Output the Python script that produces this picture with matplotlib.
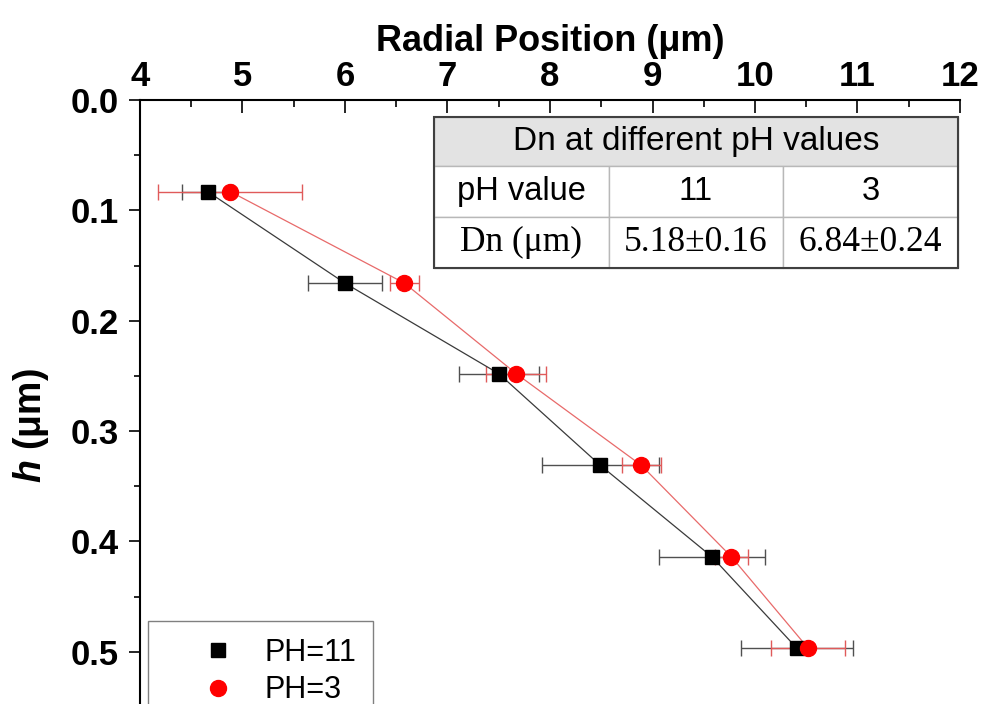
import matplotlib.pyplot as plt
from matplotlib.ticker import MultipleLocator, FormatStrFormatter
from matplotlib.patches import Rectangle

plt.rcParams['font.family'] = ['Liberation Sans', 'DejaVu Sans']
plt.rcParams['mathtext.fontset'] = 'custom'
plt.rcParams['mathtext.it'] = 'Liberation Sans:italic:bold'

W, H = 987, 704

# depth h (um) of each layer
h = [0.083, 0.166, 0.248, 0.331, 0.414, 0.497]
# radial position (um) and its error, pH 11
r_ph11 = [4.66, 6.00, 7.50, 8.49, 9.58, 10.41]
err_ph11 = [0.25, 0.36, 0.39, 0.57, 0.52, 0.55]
# radial position (um) and its error, pH 3
r_ph3 = [4.88, 6.58, 7.67, 8.89, 9.77, 10.52]
err_ph3 = [0.70, 0.14, 0.29, 0.19, 0.16, 0.36]

table_title = 'Dn at different pH values'
table_rows = [['pH value', '11', '3'],
              ['Dn (μm)', '5.18±0.16', '6.84±0.24']]

fig = plt.figure(figsize=(W / 100, H / 100), dpi=100)
# axes runs past the bottom edge, like the cropped original
ax = fig.add_axes([140 / W, 1 - 751 / H, 820 / W, 651 / H])

ax.errorbar(r_ph11, h, xerr=err_ph11, fmt='none', ecolor='#505050',
            elinewidth=1, capsize=6, capthick=1, zorder=2)
ax.errorbar(r_ph3, h, xerr=err_ph3, fmt='none', ecolor='#e05a5a',
            elinewidth=1, capsize=6, capthick=1, zorder=2)
ax.plot(r_ph11, h, color='#3a3a3a', lw=0.9, zorder=3)
ax.plot(r_ph3, h, color='#e86a6a', lw=0.9, zorder=3)
ax.plot(r_ph11, h, 's', color='black', ms=9.5, ls='none', label='PH=11', zorder=4)
ax.plot(r_ph3, h, 'o', color='red', ms=11.5, ls='none', label='PH=3', zorder=5)

ax.set_xlim(4, 12)
ax.set_ylim(0.59, 0)

ax.xaxis.tick_top()
ax.xaxis.set_major_locator(MultipleLocator(1))
ax.xaxis.set_minor_locator(MultipleLocator(0.5))
ax.yaxis.set_major_locator(MultipleLocator(0.1))
ax.yaxis.set_minor_locator(MultipleLocator(0.05))
ax.yaxis.set_major_formatter(FormatStrFormatter('%.1f'))
ax.tick_params(axis='x', which='both', direction='in', top=True, bottom=False,
               width=1.2, labelsize=25, pad=5)
ax.tick_params(axis='x', which='major', length=9)
ax.tick_params(axis='x', which='minor', length=5)
ax.tick_params(axis='y', which='both', direction='out', width=1.2, labelsize=25, pad=7)
ax.tick_params(axis='y', which='major', length=8)
ax.tick_params(axis='y', which='minor', length=4.5)
for lab in ax.get_xticklabels() + ax.get_yticklabels():
    lab.set_fontweight('bold')

ax.spines['right'].set_visible(False)
ax.spines['bottom'].set_visible(False)
ax.spines['top'].set_linewidth(1.5)
ax.spines['left'].set_linewidth(1.5)

ax.set_xlabel('Radial Position (μm)', fontsize=26, fontweight='bold')
ax.xaxis.set_label_position('top')
ax.xaxis.set_label_coords(0.5, 1 + (100 - 51) / 651)
ax.set_ylabel(r'$h$ (μm)', fontsize=27, fontweight='bold')
ax.yaxis.set_label_coords((51 - 140) / 820, 0.5)

# inset table (pixel positions -> axes fraction)
tx0, tx1 = (434 - 140) / 820, (958 - 140) / 820
ty_top, ty_mid, ty_bot = 1 - (117 - 100) / 651, 1 - (166 - 100) / 651, 1 - (268 - 100) / 651
head = ax.table(cellText=[[table_title]], cellLoc='center',
                bbox=[tx0, ty_mid, tx1 - tx0, ty_top - ty_mid])
body = ax.table(cellText=table_rows, cellLoc='center',
                bbox=[tx0, ty_bot, tx1 - tx0, ty_mid - ty_bot])
for tb in (head, body):
    tb.auto_set_font_size(False)
    tb.set_fontsize(24)
    for (r, c), cell in tb.get_celld().items():
        cell.set_edgecolor('#b8b8b8')
        cell.set_linewidth(1)
for cell in head.get_celld().values():
    cell.set_facecolor('#e3e3e3')
for (r, c), cell in body.get_celld().items():
    if r == 1:
        cell.get_text().set_fontfamily('Liberation Serif')
        cell.get_text().set_fontsize(25.5)
    else:
        cell.get_text().set_fontsize(23.5)
ax.add_patch(Rectangle((tx0, ty_bot), tx1 - tx0, ty_top - ty_bot, transform=ax.transAxes,
                       fill=False, ec='#404040', lw=1.5, zorder=10))

leg = ax.legend(loc='upper left', bbox_to_anchor=(148 / W, 1 - 621 / H),
                bbox_transform=fig.transFigure, borderaxespad=0, fontsize=22,
                frameon=True, fancybox=False, edgecolor='#808080', framealpha=1,
                handlelength=3.5, handletextpad=-0.25, borderpad=0.55, labelspacing=0.25)
leg.get_frame().set_linewidth(1)

fig.savefig('out.png', dpi=100)
